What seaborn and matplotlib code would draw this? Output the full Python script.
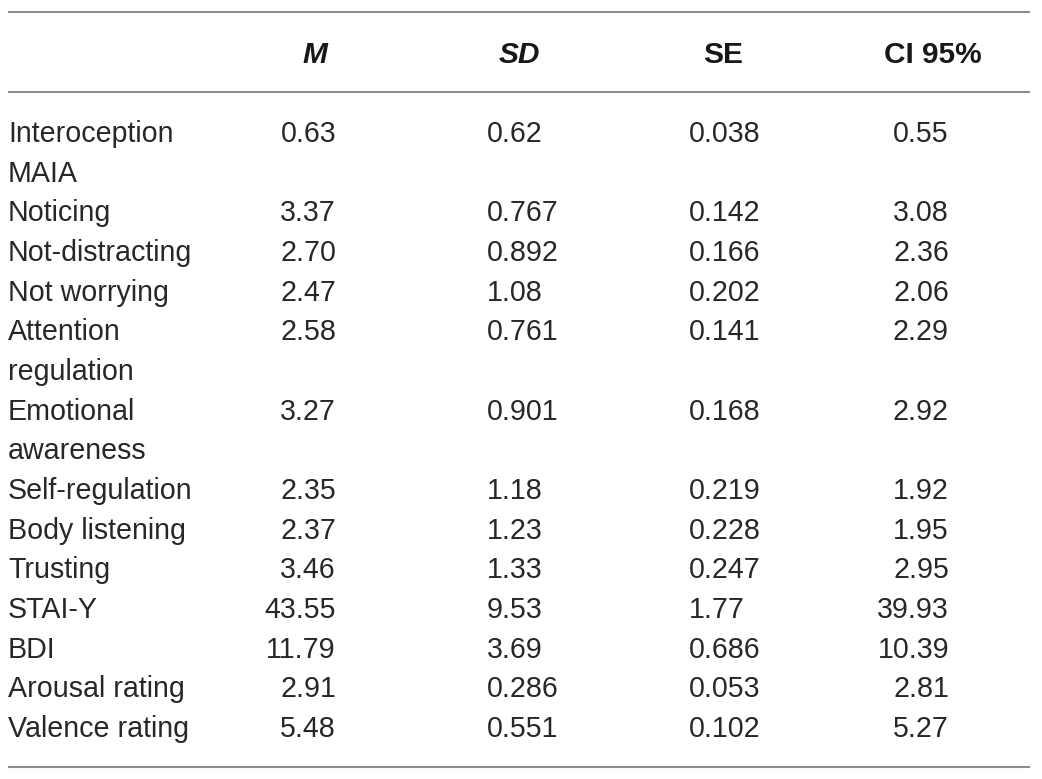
import matplotlib
matplotlib.use('Agg')
import matplotlib.pyplot as plt
import seaborn as sns

# table contents
headers = ['M', 'SD', 'SE', 'CI 95%']
header_italic = [True, True, False, False]
labels = ['Interoception\nMAIA', 'Noticing', 'Not-distracting', 'Not worrying',
          'Attention\nregulation', 'Emotional\nawareness', 'Self-regulation',
          'Body listening', 'Trusting', 'STAI-Y', 'BDI', 'Arousal rating',
          'Valence rating']
m_vals = ['0.63', '3.37', '2.70', '2.47', '2.58', '3.27', '2.35', '2.37', '3.46',
          '43.55', '11.79', '2.91', '5.48']
sd_vals = ['0.62', '0.767', '0.892', '1.08', '0.761', '0.901', '1.18', '1.23', '1.33',
           '9.53', '3.69', '0.286', '0.551']
se_vals = ['0.038', '0.142', '0.166', '0.202', '0.141', '0.168', '0.219', '0.228',
           '0.247', '1.77', '0.686', '0.053', '0.102']
ci_vals = ['0.55', '3.08', '2.36', '2.06', '2.29', '2.92', '1.92', '1.95', '2.95',
           '39.93', '10.39', '2.81', '5.27']

sns.set_theme(style='white')
plt.rcParams['font.family'] = ['Liberation Sans', 'DejaVu Sans']

W, H = 1042, 779
fig = plt.figure(figsize=(W / 100, H / 100), dpi=100)
ax = fig.add_axes([0, 0, 1, 1])
ax.set_xlim(0, W)
ax.set_ylim(H, 0)
ax.axis('off')

txt = '#2a2627'
rule = '#8c8c8c'
fs = 20.6

# horizontal rules
for y in [12, 92, 767]:
    ax.plot([8, 1030], [y, y], color=rule, lw=1.5, solid_capstyle='butt')

# header row
head_x = [315, 519, 723, 933]
for h, it, x in zip(headers, header_italic, head_x):
    ax.text(x, 63, h, ha='center', va='baseline', fontsize=21.5, fontweight='bold',
            fontstyle='italic' if it else 'normal', color='#1a1718')

# body rows
cols = [(m_vals, 336, 'right'), (sd_vals, 487, 'left'),
        (se_vals, 689, 'left'), (ci_vals, 949, 'right')]
base0, step = 142, 39.67
line = 0
for i, lab in enumerate(labels):
    y = base0 + line * step
    parts = lab.split('\n')
    for k, p in enumerate(parts):
        ax.text(8, y + k * step, p, ha='left', va='baseline', fontsize=fs, color=txt)
    for vals, x, ha in cols:
        ax.text(x, y, vals[i], ha=ha, va='baseline', fontsize=fs, color=txt)
    line += len(parts)

fig.savefig('out.png', dpi=100)
